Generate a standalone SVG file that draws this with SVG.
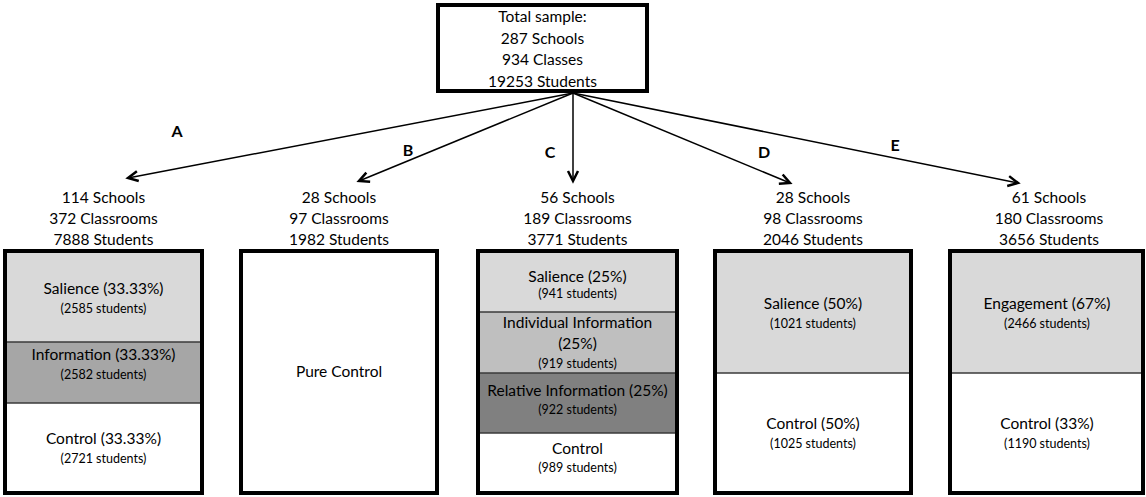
<svg xmlns="http://www.w3.org/2000/svg" width="1146" height="497" viewBox="0 0 1146 497">
<defs>
<style>
text{font-family:Lato,"Liberation Sans",sans-serif;fill:#000;text-anchor:middle}
.big{font-size:15.5px}
.sm{font-size:12.5px}
.lbl{font-size:16px;font-weight:bold}
.frame{fill:none;stroke:#000;stroke-width:4}
.div{stroke:#3a3a3a;stroke-width:1.5}
.edge{stroke:#000;stroke-width:1.5;fill:none;marker-end:url(#ah)}
.l1{fill:#d9d9d9}.l2{fill:#bfbfbf}.l3{fill:#a6a6a6}.l4{fill:#808080}.wh{fill:#fff}
</style>
<marker id="ah" markerUnits="userSpaceOnUse" markerWidth="14" markerHeight="14" refX="11" refY="6" orient="auto" viewBox="0 0 14 12">
<path d="M1,1 L11,6 L1,11" fill="none" stroke="#000" stroke-width="2.5"/>
</marker>
</defs>
<rect width="1146" height="497" fill="#fff"/>

<g id="connectors">
<line class="edge" x1="573" y1="93" x2="128" y2="178"/>
<line class="edge" x1="573" y1="93" x2="359" y2="181"/>
<line class="edge" x1="573" y1="93" x2="573" y2="181"/>
<line class="edge" x1="573" y1="93" x2="790" y2="183"/>
<line class="edge" x1="573" y1="93" x2="1018" y2="183"/>
<text class="lbl" x="177" y="137">A</text>
<text class="lbl" x="408" y="156">B</text>
<text class="lbl" x="550" y="158">C</text>
<text class="lbl" x="764" y="158">D</text>
<text class="lbl" x="895" y="151">E</text>
</g>

<g id="total">
<rect class="frame" x="438" y="5" width="209" height="86" fill="#fff"/>
<text class="big" x="542.5" y="22">Total sample:</text>
<text class="big" x="542.5" y="43.5">287 Schools</text>
<text class="big" x="542.5" y="65">934 Classes</text>
<text class="big" x="542.5" y="86.5">19253 Students</text>
</g>

<g id="groupA">
<text class="big" x="103.5" y="203">114 Schools</text>
<text class="big" x="103.5" y="224">372 Classrooms</text>
<text class="big" x="103.5" y="245">7888 Students</text>
<rect class="l1" x="5" y="251" width="197" height="91"/>
<rect class="l3" x="5" y="342" width="197" height="61"/>
<line class="div" x1="5" y1="342" x2="202" y2="342"/>
<line class="div" x1="5" y1="403" x2="202" y2="403"/>
<text class="big" x="103.5" y="294">Salience (33.33%)</text>
<text class="sm" x="103.5" y="313">(2585 students)</text>
<text class="big" x="103.5" y="360">Information (33.33%)</text>
<text class="sm" x="103.5" y="379">(2582 students)</text>
<text class="big" x="103.5" y="444">Control (33.33%)</text>
<text class="sm" x="103.5" y="463">(2721 students)</text>
<rect class="frame" x="5" y="251" width="197" height="242"/>
</g>

<g id="groupB">
<text class="big" x="339" y="203">28 Schools</text>
<text class="big" x="339" y="224">97 Classrooms</text>
<text class="big" x="339" y="245">1982 Students</text>
<text class="big" x="339" y="377">Pure Control</text>
<rect class="frame" x="241" y="251" width="196" height="242"/>
</g>

<g id="groupC">
<text class="big" x="577.5" y="203">56 Schools</text>
<text class="big" x="577.5" y="224">189 Classrooms</text>
<text class="big" x="577.5" y="245">3771 Students</text>
<rect class="l1" x="478" y="251" width="199" height="61"/>
<rect class="l2" x="478" y="312" width="199" height="61"/>
<rect class="l4" x="478" y="373" width="199" height="60"/>
<line class="div" x1="478" y1="312" x2="677" y2="312"/>
<line class="div" x1="478" y1="373" x2="677" y2="373"/>
<line class="div" x1="478" y1="433" x2="677" y2="433"/>
<text class="big" x="577.5" y="282">Salience (25%)</text>
<text class="sm" x="577.5" y="298">(941 students)</text>
<text class="big" x="577.5" y="328">Individual Information</text>
<text class="big" x="577.5" y="349">(25%)</text>
<text class="sm" x="577.5" y="368">(919 students)</text>
<text class="big" x="577.5" y="396">Relative Information (25%)</text>
<text class="sm" x="577.5" y="414">(922 students)</text>
<text class="big" x="577.5" y="454">Control</text>
<text class="sm" x="577.5" y="472">(989 students)</text>
<rect class="frame" x="478" y="251" width="199" height="242"/>
</g>

<g id="groupD">
<text class="big" x="813" y="203">28 Schools</text>
<text class="big" x="813" y="224">98 Classrooms</text>
<text class="big" x="813" y="245">2046 Students</text>
<rect class="l1" x="715" y="251" width="196" height="122"/>
<line class="div" x1="715" y1="373" x2="911" y2="373"/>
<text class="big" x="813" y="309">Salience (50%)</text>
<text class="sm" x="813" y="328">(1021 students)</text>
<text class="big" x="813" y="429">Control (50%)</text>
<text class="sm" x="813" y="448">(1025 students)</text>
<rect class="frame" x="715" y="251" width="196" height="242"/>
</g>

<g id="groupE">
<text class="big" x="1049" y="203">61 Schools</text>
<text class="big" x="1049" y="224">180 Classrooms</text>
<text class="big" x="1049" y="245">3656 Students</text>
<rect class="l1" x="950" y="251" width="193" height="122"/>
<line class="div" x1="950" y1="373" x2="1143" y2="373"/>
<text class="big" x="1047" y="309">Engagement (67%)</text>
<text class="sm" x="1047" y="328">(2466 students)</text>
<text class="big" x="1047" y="429">Control (33%)</text>
<text class="sm" x="1047" y="448">(1190 students)</text>
<rect class="frame" x="950" y="251" width="193" height="242"/>
</g>
</svg>
